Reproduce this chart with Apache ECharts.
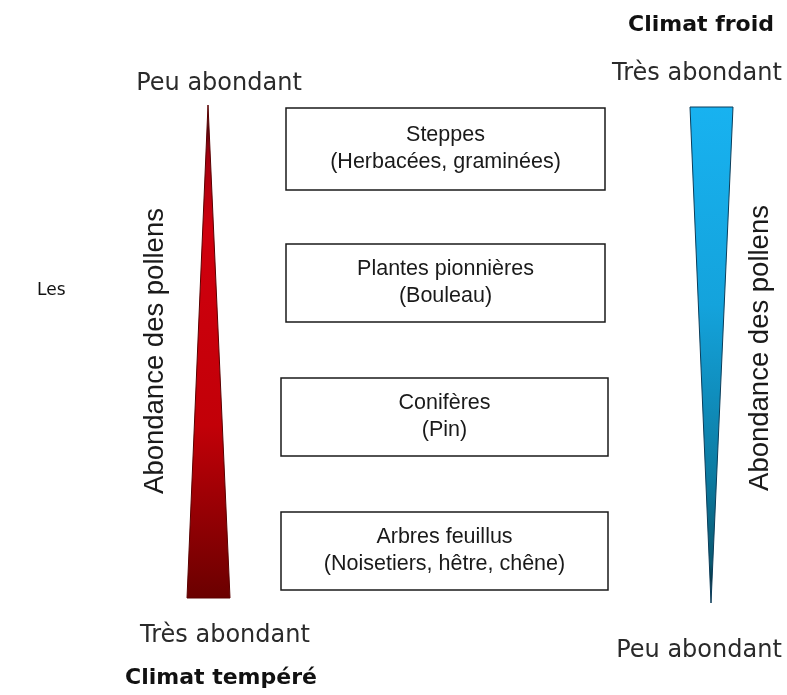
<!DOCTYPE html>
<html>
<head>
<meta charset="utf-8">
<script src="https://cdn.jsdelivr.net/npm/echarts@6/dist/echarts.min.js"></script>
<style>html,body{margin:0;padding:0;background:#fff}#c{width:787px;height:695px}</style>
</head>
<body>
<div id="c"></div>
<script>
// Vegetation categories (top = cold climate, bottom = temperate climate)
const categories = ['Steppes', 'Plantes pionnières', 'Conifères', 'Arbres feuillus'];
const details = ['(Herbacées, graminées)', '(Bouleau)', '(Pin)', '(Noisetiers, hêtre, chêne)'];
// Scale labels
const leftTopLabel = 'Peu abondant';
const leftBottomLabel = 'Très abondant';
const leftClimate = 'Climat tempéré';
const rightTopLabel = 'Très abondant';
const rightBottomLabel = 'Peu abondant';
const rightClimate = 'Climat froid';
const axisTitle = 'Abondance des pollens';
const sideNote = 'Les';

const chart = echarts.init(document.getElementById('c'), null, {renderer: 'canvas'});

const labelFont = 'DejaVu Sans';
const boxFont = 'Liberation Sans, Arial, sans-serif';

function txt(text, x, y, opts) {
  return {
    type: 'text', x: x, y: y,
    style: Object.assign({
      text: text, align: 'center', verticalAlign: 'middle',
      fontFamily: labelFont, fontSize: 24, fill: '#2a2a2a'
    }, opts || {})
  };
}

const option = {
  backgroundColor: '#ffffff',
  animation: false,
  grid: {left: 0, right: 0, top: 82, bottom: 77},
  xAxis: {type: 'value', min: 0, max: 787, show: false},
  yAxis: {type: 'category', data: categories, inverse: true, show: false},
  series: [{
    type: 'custom',
    data: categories.map((c, i) => [0, i]),
    renderItem: function (params, api) {
      const i = api.value(1);
      const p = api.coord([0, i]);
      const cy = p[1];
      const wide = i >= 2;
      const x0 = wide ? 281 : 286;
      const x1 = wide ? 608 : 605;
      const h = i === 0 ? 82 : 78;
      return {
        type: 'group',
        children: [
          {type: 'rect', shape: {x: x0, y: cy - h / 2, width: x1 - x0, height: h},
           style: {fill: '#fff', stroke: '#1a1a1a', lineWidth: 1.5}},
          {type: 'text', style: {
            text: categories[i] + '\n' + details[i],
            x: (x0 + x1) / 2, y: cy, align: 'center', verticalAlign: 'middle',
            fontFamily: boxFont, fontSize: 21.5, lineHeight: 27, fill: '#1a1a1a'}}
        ]
      };
    }
  }],
  graphic: [
    {type: 'polygon', shape: {points: [[208, 105], [230, 598], [187, 598]]},
     style: {
       fill: new echarts.graphic.LinearGradient(0, 0, 0, 1, [
         {offset: 0, color: '#111'}, {offset: 0.1, color: '#a00010'},
         {offset: 0.25, color: '#d0000e'}, {offset: 0.65, color: '#c20008'},
         {offset: 1, color: '#6a0000'}]),
       stroke: '#5a0000', lineWidth: 1}},
    {type: 'polygon', shape: {points: [[690, 107], [733, 107], [711, 603]]},
     style: {
       fill: new echarts.graphic.LinearGradient(0, 0, 0, 1, [
         {offset: 0, color: '#18b2f0'}, {offset: 0.4, color: '#14a3dc'},
         {offset: 0.75, color: '#0c7aa0'}, {offset: 0.92, color: '#0a5870'},
         {offset: 1, color: '#000'}]),
       stroke: '#0b3d5a', lineWidth: 1}},
    txt(leftTopLabel, 219, 84),
    txt(leftBottomLabel, 225, 636),
    txt(leftClimate, 221, 678, {fontWeight: 'bold', fill: '#111', fontSize: 22}),
    txt(rightClimate, 701, 25, {fontWeight: 'bold', fill: '#111', fontSize: 22}),
    txt(rightTopLabel, 697, 74),
    txt(rightBottomLabel, 699, 651),
    txt(sideNote, 37, 291, {align: 'left', fontSize: 17, fill: '#111'}),
    {type: 'text', x: 155, y: 351, rotation: Math.PI / 2,
     style: {text: axisTitle, align: 'center', verticalAlign: 'middle',
             fontFamily: boxFont, fontSize: 27.5, fill: '#1a1a1a'}},
    {type: 'text', x: 760, y: 348, rotation: Math.PI / 2,
     style: {text: axisTitle, align: 'center', verticalAlign: 'middle',
             fontFamily: boxFont, fontSize: 27.5, fill: '#1a1a1a'}}
  ]
};
chart.setOption(option);
</script>
</body>
</html>
